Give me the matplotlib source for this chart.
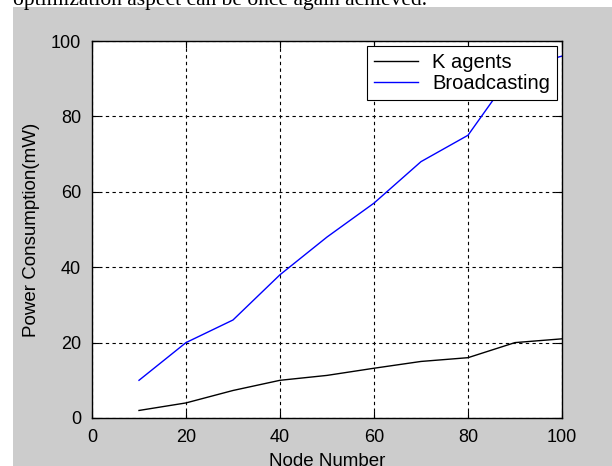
import matplotlib.pyplot as plt

nodes = [10, 20, 30, 40, 50, 60, 70, 80, 90, 100]
k_agents = [2, 4, 7.3, 10, 11.3, 13.2, 15, 16, 20, 21]
broadcasting = [10, 20, 26, 38, 48, 57, 68, 75, 92.5, 96]

plt.rcParams['font.family'] = ['Liberation Sans', 'DejaVu Sans']

fig = plt.figure(figsize=(6.12, 4.66), dpi=100, facecolor='white')
# grey matlab figure window, cut from a page
bg = fig.add_axes([13 / 612, 0, 1, (466 - 7) / 466], zorder=-1)
bg.axis('off')
bg.add_patch(plt.Rectangle((0, 0), 1, 1, transform=bg.transAxes, facecolor='#cccccc', edgecolor='none'))
fig.text(13 / 612, 1 - 5 / 466, "optimization aspect can be once again achieved.",
         family='Liberation Serif', fontsize=15.5, va='baseline', ha='left')

ax = fig.add_axes([92 / 612, 48 / 466, 470 / 612, 377 / 466])
ax.plot(nodes, k_agents, color='black', lw=1, label='K agents')
ax.plot(nodes, broadcasting, color='blue', lw=1, label='Broadcasting')

ax.set_xlim(0, 100)
ax.set_ylim(0, 100)
ax.set_xticks([0, 20, 40, 60, 80, 100])
ax.set_yticks([0, 20, 40, 60, 80, 100])
ax.grid(True, color='black', linestyle=(0, (3, 3)), lw=0.8)
ax.tick_params(direction='in', length=5, top=True, right=True, labelsize=13, colors='black', pad=8)
for s in ax.spines.values():
    s.set_linewidth(1)

ax.set_xlabel('Node Number', fontsize=13.5, labelpad=5)
ax.set_ylabel('Power Consumption(mW)', fontsize=13.5, labelpad=8)

leg = ax.legend(loc='upper right', fontsize=14.5, fancybox=False, framealpha=1,
                edgecolor='black', borderaxespad=0.25, handlelength=2.2, borderpad=0.35,
                labelspacing=0.1, handletextpad=0.7)
leg.get_frame().set_linewidth(0.8)

plt.savefig('out.png', dpi=100, facecolor=fig.get_facecolor())
